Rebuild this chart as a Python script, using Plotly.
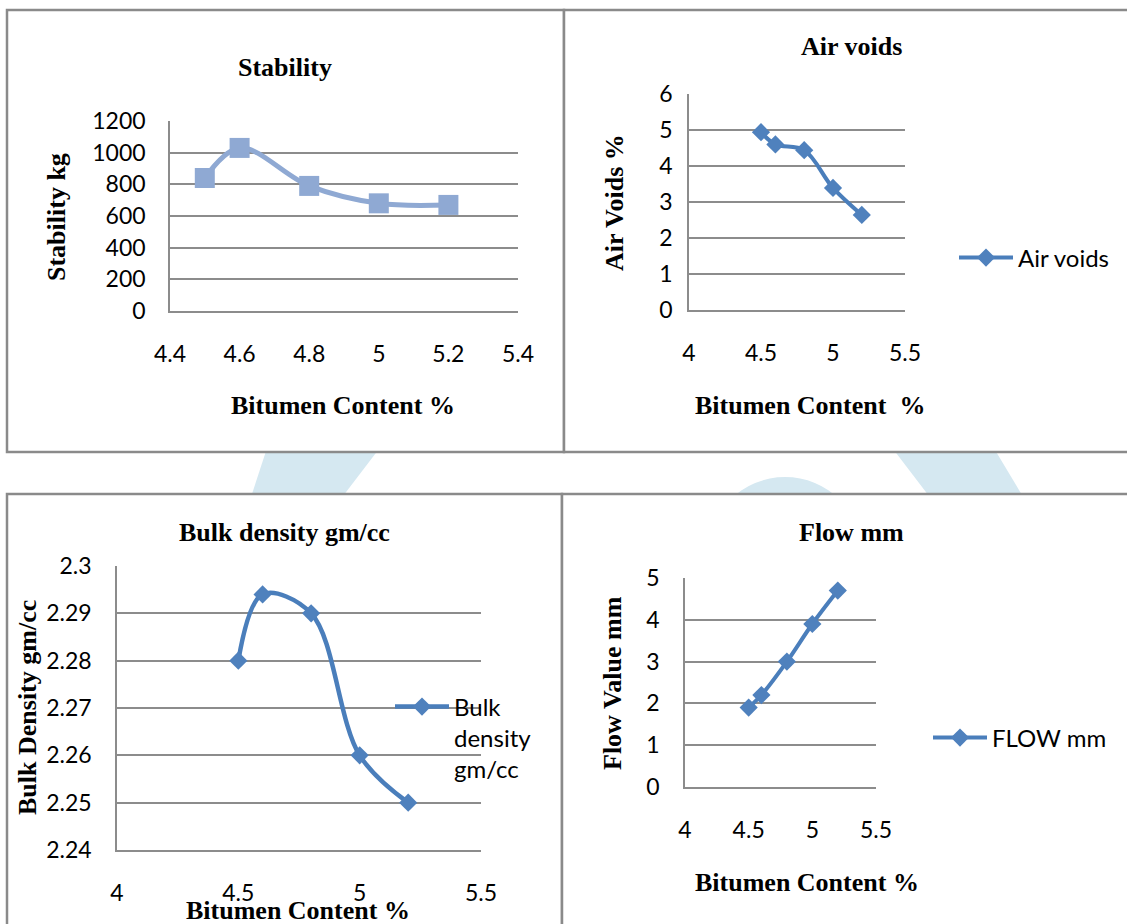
import plotly.graph_objects as go

W, H = 1127, 924

# ---------------- data ----------------
bitumen = [4.5, 4.6, 4.8, 5.0, 5.2]
stability = [840, 1030, 790, 680, 670]
air_voids = [4.94, 4.60, 4.44, 3.39, 2.64]
bulk_density = [2.280, 2.294, 2.290, 2.260, 2.250]
flow = [1.9, 2.2, 3.0, 3.9, 4.7]

stab_xticks = [4.4, 4.6, 4.8, 5.0, 5.2, 5.4]
stab_xtext = ["4.4", "4.6", "4.8", "5", "5.2", "5.4"]
half_xticks = [4.0, 4.5, 5.0, 5.5]
half_xtext = ["4", "4.5", "5", "5.5"]
stab_yticks = [0, 200, 400, 600, 800, 1000, 1200]
air_yticks = [0, 1, 2, 3, 4, 5, 6]
bulk_yticks = [2.24, 2.25, 2.26, 2.27, 2.28, 2.29, 2.30]
bulk_ytext = ["2.24", "2.25", "2.26", "2.27", "2.28", "2.29", "2.3"]
flow_yticks = [0, 1, 2, 3, 4, 5]


def px(x):
    return x / W


def py(y):
    return 1 - y / H


TICKFONT = dict(family="Lato", size=23, color="#000000")
SERIF = "Liberation Serif"
GRID = "#8c8c8c"
BLUE_LINE = "#4A7EBB"
BLUE_MARK = "#4F81BD"
STAB = "#8FA9D3"

fig = go.Figure()

fig.add_trace(go.Scatter(
    x=bitumen, y=stability, mode="lines+markers", name="Stability",
    line=dict(color=STAB, width=5, shape="spline", smoothing=1),
    marker=dict(symbol="square", size=20, color=STAB),
    xaxis="x", yaxis="y", showlegend=False))

fig.add_trace(go.Scatter(
    x=bitumen, y=air_voids, mode="lines+markers", name="Air voids",
    line=dict(color=BLUE_LINE, width=4, shape="spline", smoothing=1),
    marker=dict(symbol="diamond", size=14, color=BLUE_MARK),
    xaxis="x2", yaxis="y2", legend="legend"))

fig.add_trace(go.Scatter(
    x=bitumen, y=bulk_density, mode="lines+markers", name="Bulk<br>density<br>gm/cc",
    line=dict(color=BLUE_LINE, width=4.5, shape="spline", smoothing=1),
    marker=dict(symbol="diamond", size=14, color=BLUE_MARK),
    xaxis="x3", yaxis="y3", legend="legend2"))

fig.add_trace(go.Scatter(
    x=bitumen, y=flow, mode="lines+markers", name="FLOW mm",
    line=dict(color=BLUE_LINE, width=4, shape="spline", smoothing=1),
    marker=dict(symbol="diamond", size=14, color=BLUE_MARK),
    xaxis="x4", yaxis="y4", legend="legend3"))


def xax(dom, rng, vals, text, anchor):
    return dict(domain=[px(dom[0]), px(dom[1])], range=rng, tickvals=vals, ticktext=text,
                showgrid=False, zeroline=False, showline=True, linecolor=GRID, linewidth=1.5,
                ticks="outside", ticklen=22, tickcolor="rgba(0,0,0,0)", tickfont=TICKFONT,
                anchor=anchor, fixedrange=True, automargin=False)


def yax(dom, rng, vals, text, anchor, tl):
    return dict(domain=[py(dom[1]), py(dom[0])], range=rng, tickvals=vals, ticktext=text,
                showgrid=True, gridcolor=GRID, gridwidth=1.5, zeroline=False,
                showline=True, linecolor=GRID, linewidth=1.5,
                ticks="outside", ticklen=tl, tickcolor="rgba(0,0,0,0)", tickfont=TICKFONT,
                anchor=anchor, fixedrange=True, automargin=False)


# ---------------- shapes: watermark + panel frames ----------------
WM = "#d5e8f1"


def path(points):
    s = "M " + " L ".join(f"{px(a):.5f},{py(b):.5f}" for a, b in points) + " Z"
    return s


shapes = [
    dict(type="path", xref="paper", yref="paper", layer="below", line=dict(width=0), fillcolor=WM,
         path=path([(268, 445), (382, 445), (340, 500), (250, 500)])),
    dict(type="path", xref="paper", yref="paper", layer="below", line=dict(width=0), fillcolor=WM,
         path=path([(890, 445), (992, 445), (1025, 500), (932, 500)])),
    dict(type="circle", xref="paper", yref="paper", layer="below", line=dict(width=0), fillcolor=WM,
         x0=px(707), x1=px(863), y0=py(633), y1=py(477)),
]
FRAME = "#8a8a8a"
for (x0, y0, x1, y1) in [(7, 10, 564, 452), (564, 10, 1140, 452), (7, 494, 562, 940), (562, 494, 1140, 940)]:
    shapes.append(dict(type="rect", xref="paper", yref="paper", layer="below",
                       x0=px(x0), x1=px(x1), y0=py(y1), y1=py(y0),
                       line=dict(color=FRAME, width=2.5), fillcolor="white"))

# ---------------- annotations: titles ----------------
ann = []


def text(t, x, y, size=26, angle=0):
    ann.append(dict(text=f"<b>{t}</b>", x=px(x), y=py(y), xref="paper", yref="paper",
                    xanchor="center", yanchor="middle", showarrow=False, textangle=angle,
                    font=dict(family=SERIF, size=size, color="#000000")))


text("Stability", 285, 67)
text("Air voids", 851, 47)
text("Bulk density gm/cc", 284, 532)
text("Flow mm", 851, 532)
text("Stability kg", 56, 217, angle=-90)
text("Air Voids %", 614, 203, angle=-90)
text("Bulk Density gm/cc", 27, 708, angle=-90)
text("Flow Value mm", 612, 683, angle=-90)
text("Bitumen Content %", 343, 405)
text("Bitumen Content  %", 810, 405)
text("Bitumen Content %", 298, 910)
text("Bitumen Content %", 807, 882)

LEGFONT = dict(family="Lato", size=24, color="#000000")
legend_common = dict(bgcolor="rgba(0,0,0,0)", borderwidth=0, font=LEGFONT, itemwidth=54,
                     xanchor="left", yanchor="middle", xref="container", yref="container")

fig.update_layout(
    width=W, height=H, margin=dict(l=0, r=0, t=0, b=0, autoexpand=False),
    paper_bgcolor="white", plot_bgcolor="rgba(0,0,0,0)",
    xaxis=xax((170, 518), [4.4, 5.4], stab_xticks, stab_xtext, "y"),
    yaxis=yax((121, 311), [0, 1200], stab_yticks, [str(v) for v in stab_yticks], "x", 18),
    xaxis2=xax((689, 905), [4.0, 5.5], half_xticks, half_xtext, "y2"),
    yaxis2=yax((94, 310), [0, 6], air_yticks, [str(v) for v in air_yticks], "x2", 10),
    xaxis3=xax((117, 481), [4.0, 5.5], half_xticks, half_xtext, "y3"),
    yaxis3=yax((566, 850), [2.24, 2.30], bulk_yticks, bulk_ytext, "x3", 19),
    xaxis4=xax((685, 876), [4.0, 5.5], half_xticks, half_xtext, "y4"),
    yaxis4=yax((578, 787), [0, 5], flow_yticks, [str(v) for v in flow_yticks], "x4", 19),
    legend=dict(x=px(954), y=py(258), **legend_common),
    legend2=dict(x=px(390), y=py(738), valign="top", **legend_common),
    legend3=dict(x=px(928), y=py(738), **legend_common),
    shapes=shapes, annotations=ann,
)

fig.write_html("out.html")
